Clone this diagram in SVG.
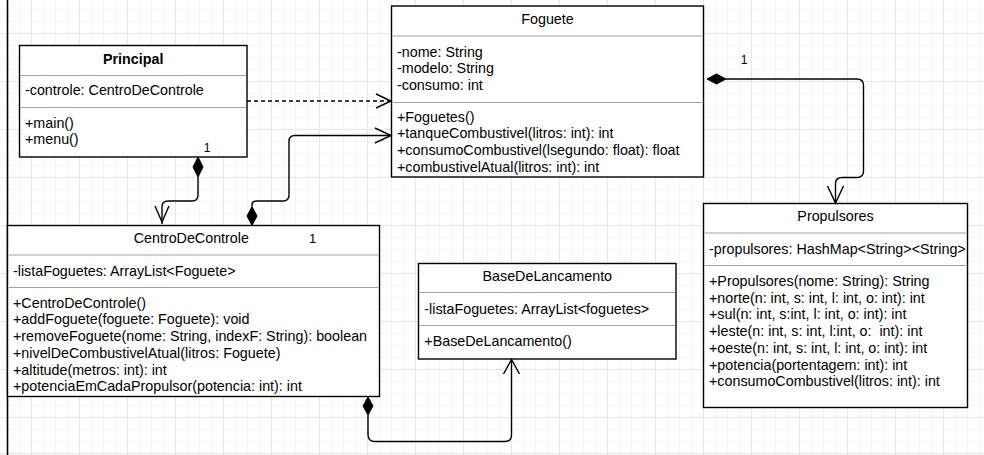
<svg xmlns="http://www.w3.org/2000/svg" width="984" height="455" viewBox="0 0 984 455">
  <defs>
    <pattern id="grid" patternUnits="userSpaceOnUse" x="31" y="33" width="48" height="48">
      <path d="M12.5,0V48M24.5,0V48M36.5,0V48M0,12.5H48M0,24.5H48M0,36.5H48" stroke="#f4f4f4" stroke-width="1" fill="none"/>
      <path d="M0.5,0V48M0,0.5H48" stroke="#e6e6e6" stroke-width="1" fill="none"/>
    </pattern>
    <style>
      .box { fill: #ffffff; stroke: #000000; stroke-width: 1.4; }
      .sep { stroke: #a0a0a0; stroke-width: 1.2; }
      .t { font-family: "Liberation Sans", Arial, sans-serif; font-size: 14.3px; fill: #000000; white-space: pre; }
      .title { text-anchor: middle; }
      .bold { font-weight: bold; }
      .mult { font-family: "Liberation Sans", Arial, sans-serif; font-size: 12px; fill: #000000; }
      .edge { fill: none; stroke: #000000; stroke-width: 1.4; }
      .dash { stroke-dasharray: 4 3; }
      .diamond { fill: #000000; stroke: #000000; stroke-width: 1; }
    </style>
  </defs>

  <rect x="0" y="0" width="984" height="455" fill="#ffffff"/>
  <rect x="0" y="0" width="984" height="455" fill="url(#grid)"/>
  <line x1="0" y1="453.5" x2="984" y2="453.5" stroke="#e6e6e6" stroke-width="1"/>
  <line x1="7.5" y1="0" x2="7.5" y2="455" stroke="#000000" stroke-width="1.6"/>

  <g id="Principal">
    <rect class="box" x="19.5" y="45.5" width="227.5" height="111.5"/>
    <line class="sep" x1="20.5" y1="75.5" x2="246" y2="75.5"/>
    <line class="sep" x1="20.5" y1="107.5" x2="246" y2="107.5"/>
    <text class="t title bold" x="133.2" y="63.5">Principal</text>
    <text class="t" x="25" y="95">-controle: CentroDeControle</text>
    <text class="t" x="25" y="128.3">+main()</text>
    <text class="t" x="25" y="144.3">+menu()</text>
  </g>

  <g id="Foguete">
    <rect class="box" x="391.5" y="6" width="312" height="171"/>
    <line class="sep" x1="392.5" y1="36" x2="702.5" y2="36"/>
    <line class="sep" x1="392.5" y1="102.5" x2="702.5" y2="102.5"/>
    <text class="t title" x="547.5" y="24">Foguete</text>
    <text class="t" x="397" y="56.7">-nome: String</text>
    <text class="t" x="397" y="73.4">-modelo: String</text>
    <text class="t" x="397" y="90.1">-consumo: int</text>
    <text class="t" x="397" y="121.7">+Foguetes()</text>
    <text class="t" x="397" y="138.4">+tanqueCombustivel(litros: int): int</text>
    <text class="t" x="397" y="155.1">+consumoCombustivel(lsegundo: float): float</text>
    <text class="t" x="397" y="171.8">+combustivelAtual(litros: int): int</text>
  </g>

  <g id="CentroDeControle">
    <rect class="box" x="7.5" y="225.5" width="372" height="171"/>
    <line class="sep" x1="8.5" y1="255" x2="378.5" y2="255"/>
    <line class="sep" x1="8.5" y1="287.5" x2="378.5" y2="287.5"/>
    <text class="t title" x="191.3" y="243.3">CentroDeControle</text>
    <text class="mult" x="312.5" y="243" text-anchor="middle" style="font-size:13px">1</text>
    <text class="t" x="13" y="275.7">-listaFoguetes: ArrayList&lt;Foguete&gt;</text>
    <text class="t" x="13" y="307.7">+CentroDeControle()</text>
    <text class="t" x="13" y="324.4">+addFoguete(foguete: Foguete): void</text>
    <text class="t" x="13" y="341.1">+removeFoguete(nome: String, indexF: String): boolean</text>
    <text class="t" x="13" y="357.8">+nivelDeCombustivelAtual(litros: Foguete)</text>
    <text class="t" x="13" y="374.5">+altitude(metros: int): int</text>
    <text class="t" x="13" y="391.2">+potenciaEmCadaPropulsor(potencia: int): int</text>
  </g>

  <g id="BaseDeLancamento">
    <rect class="box" x="418.5" y="263.5" width="257.5" height="95.5"/>
    <line class="sep" x1="419.5" y1="292.5" x2="675" y2="292.5"/>
    <line class="sep" x1="419.5" y1="325.5" x2="675" y2="325.5"/>
    <text class="t title" x="547.3" y="281">BaseDeLancamento</text>
    <text class="t" x="424.3" y="314">-listaFoguetes: ArrayList&lt;foguetes&gt;</text>
    <text class="t" x="424.3" y="346">+BaseDeLancamento()</text>
  </g>

  <g id="Propulsores">
    <rect class="box" x="703.5" y="203.5" width="264" height="204"/>
    <line class="sep" x1="704.5" y1="233" x2="966.5" y2="233"/>
    <line class="sep" x1="704.5" y1="265.5" x2="966.5" y2="265.5"/>
    <text class="t title" x="835.5" y="220.7">Propulsores</text>
    <text class="t" x="709" y="254">-propulsores: HashMap&lt;String&gt;&lt;String&gt;</text>
    <text class="t" x="709" y="286">+Propulsores(nome: String): String</text>
    <text class="t" x="709" y="302.7">+norte(n: int, s: int, l: int, o: int): int</text>
    <text class="t" x="709" y="319.4">+sul(n: int, s:int, l: int, o: int): int</text>
    <text class="t" x="709" y="336.1" xml:space="preserve">+leste(n: int, s: int, l:int, o:  int): int</text>
    <text class="t" x="709" y="352.8">+oeste(n: int, s: int, l: int, o: int): int</text>
    <text class="t" x="709" y="369.5">+potencia(portentagem: int): int</text>
    <text class="t" x="709" y="386.2">+consumoCombustivel(litros: int): int</text>
  </g>

  <g id="connectors">
    <!-- Principal dependency to Foguete -->
    <path class="edge dash" d="M247,101 H390"/>
    <path class="edge" d="M376,94 L391,101 L376,108"/>

    <!-- Principal composition to CentroDeControle -->
    <path class="diamond" d="M198,157 L203,167 L198,177 L193,167 Z"/>
    <path class="edge" d="M198,177 V195 Q198,201 192,201 H168 Q162,201 162,207 V224"/>
    <path class="edge" d="M155,206 L162,222 L169,206"/>
    <text class="mult" x="207" y="151.5" text-anchor="middle">1</text>

    <!-- CentroDeControle composition to Foguete -->
    <path class="diamond" d="M252,225.5 L257,216 L252,206.5 L247,216 Z"/>
    <path class="edge" d="M252,206.5 V205 Q252,201 257,201 H283 Q289,201 289,195 V141.5 Q289,135.5 295,135.5 H391"/>
    <path class="edge" d="M375,128 L391,135.5 L375,143"/>

    <!-- Foguete composition to Propulsores -->
    <path class="diamond" d="M707,79 L716.5,74 L726,79 L716.5,84 Z"/>
    <path class="edge" d="M726,79 H857 Q863.5,79 863.5,85.5 V171 Q863.5,177.5 857,177.5 H842 Q835.5,177.5 835.5,184 V203"/>
    <path class="edge" d="M827.5,186 L835.5,203 L843.5,186"/>
    <text class="mult" x="744" y="64" text-anchor="middle">1</text>

    <!-- CentroDeControle composition to BaseDeLancamento -->
    <path class="diamond" d="M368,397 L373,406 L368,415 L363,406 Z"/>
    <path class="edge" d="M368,415 V434.5 Q368,441.5 375,441.5 H505 Q511.5,441.5 511.5,435 V360"/>
    <path class="edge" d="M503.5,374 L511.5,359.5 L519.5,374"/>
  </g>
</svg>
